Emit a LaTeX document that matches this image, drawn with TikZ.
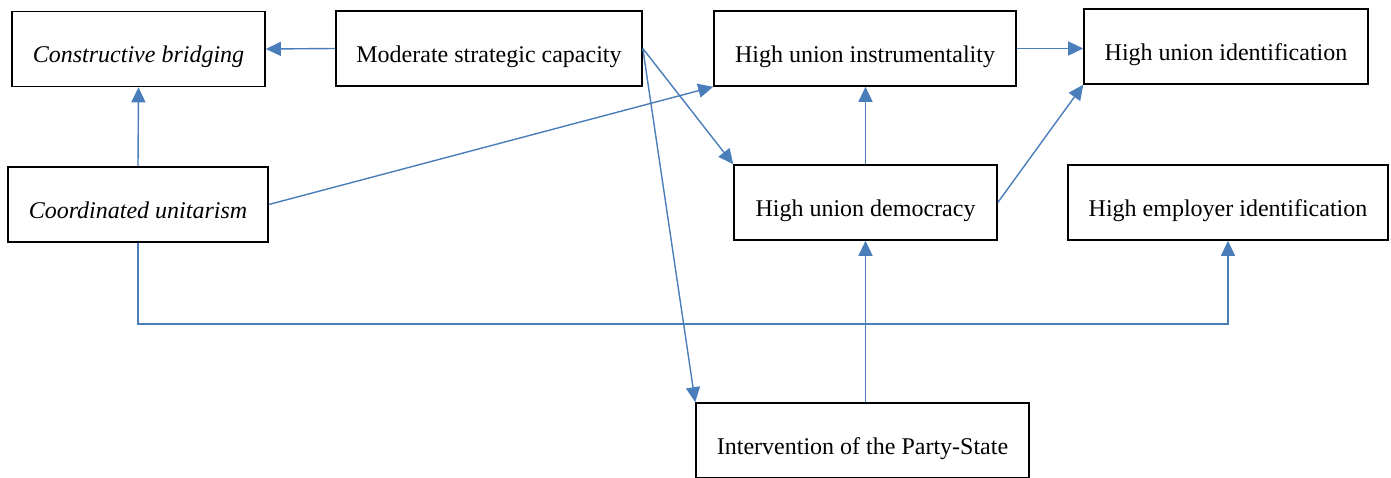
\documentclass[tikz,border=0pt]{standalone}
\usepackage{fontspec}
\setmainfont{Liberation Serif}
\usepackage{tikz}
\usetikzlibrary{arrows.meta,positioning,calc}
\definecolor{linkblue}{RGB}{74,126,187}
\tikzset{
  box/.style={draw, line width=1.6pt, inner sep=0pt, text height=51pt, text depth=24pt,
    font=\fontsize{24}{28}\selectfont},
  arr/.style={draw=linkblue, line width=1.4pt, -{Triangle[length=15pt,width=14pt]}}
}

\begin{document}
\begin{tikzpicture}[x=1pt,y=-1pt]
              \useasboundingbox (0,0) rectangle (1391,477);
              \node[box, minimum width=253pt] at (138.5,49) (cb) {\itshape Constructive bridging};
              \node[box, minimum width=306pt] at (489,48.5) (msc) {Moderate strategic capacity};
              \node[box, minimum width=302pt] at (865,48.5) (hui) {High union instrumentality};
              \node[box, minimum width=284pt] at (1226,46.5) (huid) {High union identification};
              \node[box, minimum width=260pt] at (138,204.5) (cu) {\itshape Coordinated unitarism};
              \node[box, minimum width=263pt] at (865.5,202.5) (hud) {High union democracy};
              \node[box, minimum width=320pt] at (1228,202.5) (hei) {High employer identification};
              \node[box, minimum width=333pt] at (862.5,440.5) (ips) {Intervention of the Party-State};

              \draw[arr] (msc.west) -- (cb.east);
              \draw[arr] (cu.north) -- (cb.south);
              \draw[arr] (cu.east) -- (hui.south west);
              \draw[arr] (msc.east) -- (hud.north west);
              \draw[arr] (msc.east) -- (ips.north west);
              \draw[arr] (hui.east) -- (hui.east -| huid.west);
              \draw[arr] (hud.north) -- (hud.north |- hui.south);
              \draw[arr] (hud.east) -- (huid.south west);
              \draw[arr] (hud.south |- ips.north) -- (hud.south);
              \draw[arr] (cu.south) -- ++(0,81) -| (hei.south);
            \end{tikzpicture}
\end{document}
